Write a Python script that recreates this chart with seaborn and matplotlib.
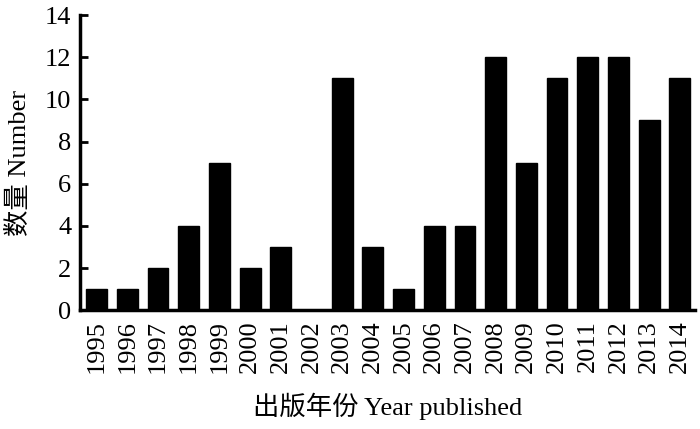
import matplotlib
matplotlib.use("Agg")
import matplotlib.pyplot as plt
import seaborn as sns
import pandas as pd

years = [str(y) for y in range(1995, 2015)]
counts = [1, 1, 2, 4, 7, 2, 3, 0, 11, 3, 1, 4, 4, 12, 7, 11, 12, 12, 9, 11]
y_ticks = [0, 2, 4, 6, 8, 10, 12, 14]

sns.set_theme(style="ticks")
plt.rcParams['font.family'] = ['Liberation Serif', 'Noto Sans CJK SC']

df = pd.DataFrame({"year": years, "count": counts})

fig = plt.figure(figsize=(7, 4.29), dpi=100)
ax = fig.add_axes([0.114, 0.277, 0.879, 0.688])
sns.barplot(data=df, x="year", y="count", color="black", width=0.68,
            saturation=1, ax=ax, edgecolor="black")

ax.set_ylim(0, 14)
ax.set_yticks(y_ticks)
ax.set_xlim(-0.55, len(years) - 0.5)
sns.despine(ax=ax)
for s in ["left", "bottom"]:
    ax.spines[s].set_linewidth(2.5)
    ax.spines[s].set_color("black")
ax.tick_params(axis="y", direction="in", length=6, width=2, labelsize=19, colors="black", pad=6)
ax.tick_params(axis="x", length=0, labelsize=19, rotation=90, colors="black", pad=7)
ax.set_xlabel("出版年份 Year published", fontsize=19, color="black", labelpad=14)
ax.set_ylabel("数量 Number", fontsize=19, color="black", labelpad=10)

fig.savefig("out.png", dpi=100)
